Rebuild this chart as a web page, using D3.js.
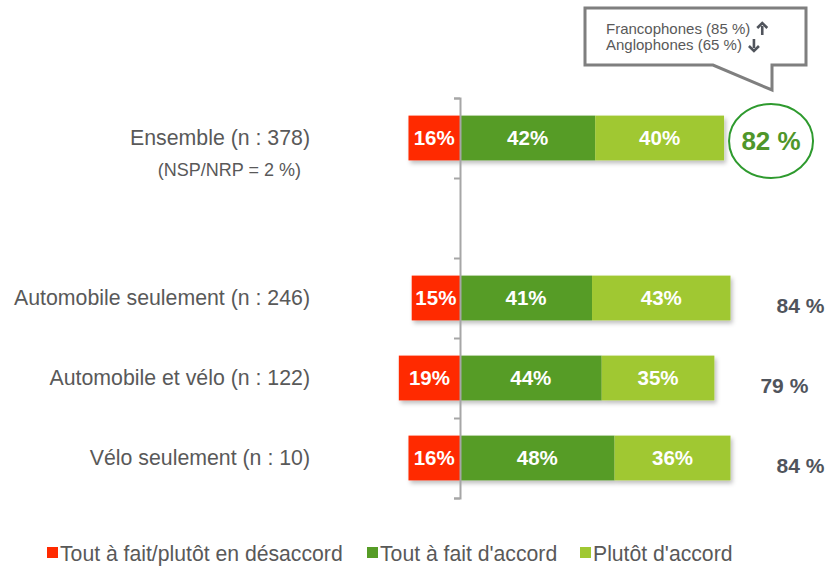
<!DOCTYPE html>
<html>
<head>
<meta charset="utf-8">
<script src="https://cdn.jsdelivr.net/npm/d3@7"></script>
<style>
  body { margin: 0; background: #fff; }
  text { font-family: "Liberation Sans", Arial, sans-serif; }
</style>
</head>
<body>
<div id="chart"></div>
<script>
var svgWidth = 839;
var svgHeight = 567;

// data
var rows = ["Ensemble (n : 378)", "", "Automobile seulement (n : 246)", "Automobile et vélo (n : 122)", "Vélo seulement (n : 10)"];
var desaccord = [16, null, 15, 19, 16];
var toutAccord = [42, null, 41, 44, 48];
var plutotAccord = [40, null, 43, 35, 36];
var totals = ["82 %", null, "84 %", "79 %", "84 %"];
var seriesNames = ["Tout à fait/plutôt en désaccord", "Tout à fait d'accord", "Plutôt d'accord"];
var colors = ["#ff2a00", "#569c26", "#a0c832"];
var calloutLines = ["Francophones (85 %)", "Anglophones (65 %)"];
var calloutDir = [1, -1];
var note = "(NSP/NRP = 2 %)";

var axisX = 460;
var plotTop = 98, plotBottom = 498;

var svg = d3.select("#chart")
  .append("svg")
  .attr("width", svgWidth)
  .attr("height", svgHeight);

var defs = svg.append("defs");
var shadow = defs.append("filter").attr("id", "shadow")
  .attr("x", "-5%").attr("y", "-10%").attr("width", "115%").attr("height", "140%");
shadow.append("feDropShadow")
  .attr("dx", 2).attr("dy", 3).attr("stdDeviation", 2)
  .attr("flood-color", "#000").attr("flood-opacity", 0.25);

var xScale = d3.scaleLinear()
  .domain([0, 100])
  .range([axisX, axisX + 322]);

var yScale = d3.scaleBand()
  .domain(d3.range(rows.length))
  .range([plotTop, plotBottom])
  .paddingInner(0.44)
  .paddingOuter(0.22);

// build segments
var data = [];
rows.forEach(function(r, i) {
  if (desaccord[i] == null) return;
  data.push({row: i, s: 0, x0: -desaccord[i], x1: 0, v: desaccord[i]});
  data.push({row: i, s: 1, x0: 0, x1: toutAccord[i], v: toutAccord[i]});
  data.push({row: i, s: 2, x0: toutAccord[i], x1: toutAccord[i] + plutotAccord[i], v: plutotAccord[i]});
});

var barGroup = svg.append("g").attr("filter", "url(#shadow)");
barGroup.selectAll("rect")
  .data(data)
  .enter()
  .append("rect")
  .attr("x", d => xScale(d.x0))
  .attr("y", d => yScale(d.row))
  .attr("width", d => xScale(d.x1) - xScale(d.x0))
  .attr("height", yScale.bandwidth())
  .attr("fill", d => colors[d.s]);

// axis with ticks between categories
var edgeScale = d3.scaleLinear().domain([0, rows.length]).range([plotTop, plotBottom]);
var axis = svg.append("g")
  .attr("transform", `translate(${axisX},0)`)
  .call(d3.axisLeft(edgeScale).ticks(rows.length).tickFormat("").tickSize(6).tickSizeOuter(6));
axis.selectAll("path, line").attr("stroke", "#a6a6a6").attr("stroke-width", 2);

svg.selectAll("text.val")
  .data(data)
  .enter()
  .append("text")
  .attr("class", "val")
  .attr("x", d => (xScale(d.x0) + xScale(d.x1)) / 2)
  .attr("y", d => yScale(d.row) + yScale.bandwidth() / 2 + 7)
  .attr("text-anchor", "middle")
  .attr("fill", "#fff")
  .attr("font-weight", "bold")
  .attr("font-size", "20.5px")
  .text(d => d.v + "%");

// category labels
svg.selectAll("text.cat")
  .data(rows)
  .enter()
  .append("text")
  .attr("class", "cat")
  .attr("x", 310)
  .attr("y", (d, i) => yScale(i) + yScale.bandwidth() / 2 + 7)
  .attr("text-anchor", "end")
  .attr("fill", "#595959")
  .attr("font-size", "21.3px")
  .text(d => d);

svg.append("text")
  .attr("x", 301)
  .attr("y", yScale(0) + yScale.bandwidth() / 2 + 38)
  .attr("text-anchor", "end")
  .attr("fill", "#595959")
  .attr("font-size", "18px")
  .text(note);

// totals
rows.forEach(function(r, i) {
  if (totals[i] == null) return;
  var end = xScale(toutAccord[i] + plutotAccord[i]);
  var cy = yScale(i) + yScale.bandwidth() / 2;
  if (i == 0) {
    svg.append("ellipse")
      .attr("cx", end + 47).attr("cy", cy + 3)
      .attr("rx", 42).attr("ry", 37)
      .attr("fill", "none")
      .attr("stroke", "#2e9a2e")
      .attr("stroke-width", 2);
    svg.append("text")
      .attr("x", end + 47).attr("y", cy + 12)
      .attr("text-anchor", "middle")
      .attr("fill", "#4f962a")
      .attr("font-weight", "bold")
      .attr("font-size", "26px")
      .text(totals[i]);
  } else {
    svg.append("text")
      .attr("x", end + 70).attr("y", cy + 15)
      .attr("text-anchor", "middle")
      .attr("fill", "#50545c")
      .attr("font-weight", "bold")
      .attr("font-size", "21px")
      .text(totals[i]);
  }
});

// callout bubble
svg.append("path")
  .attr("d", "M585,8H806V65H772V90L713,65H585Z")
  .attr("fill", "#fff")
  .attr("stroke", "#7f7f7f")
  .attr("stroke-width", 3)
  .attr("stroke-linejoin", "miter");

calloutLines.forEach(function(t, i) {
  var y = 34 + i * 16;
  var txt = svg.append("text")
    .attr("x", 606).attr("y", y)
    .attr("fill", "#595959")
    .attr("font-size", "15px")
    .text(t);
  var ax = 606 + txt.node().getComputedTextLength() + 12;
  var cy = y - 5;
  var dir = calloutDir[i];
  // small bold arrow
  svg.append("path")
    .attr("d", `M${ax},${cy + dir * 6}V${cy - dir * 3}`)
    .attr("stroke", "#50545c")
    .attr("stroke-width", 2.6);
  svg.append("path")
    .attr("d", `M${ax - 5},${cy - dir * 1}L${ax},${cy - dir * 6}L${ax + 5},${cy - dir * 1}`)
    .attr("fill", "none")
    .attr("stroke", "#50545c")
    .attr("stroke-width", 2.6);
});

// legend
var legendX = [47, 367, 580];
var legend = svg.selectAll("g.legend")
  .data(seriesNames)
  .enter()
  .append("g")
  .attr("transform", (d, i) => `translate(${legendX[i]},547)`);
legend.append("rect")
  .attr("width", 11).attr("height", 11)
  .attr("fill", (d, i) => colors[i]);
legend.append("text")
  .attr("x", 13).attr("y", 14)
  .attr("fill", "#595959")
  .attr("font-size", "21.2px")
  .text(d => d);
</script>
</body>
</html>
